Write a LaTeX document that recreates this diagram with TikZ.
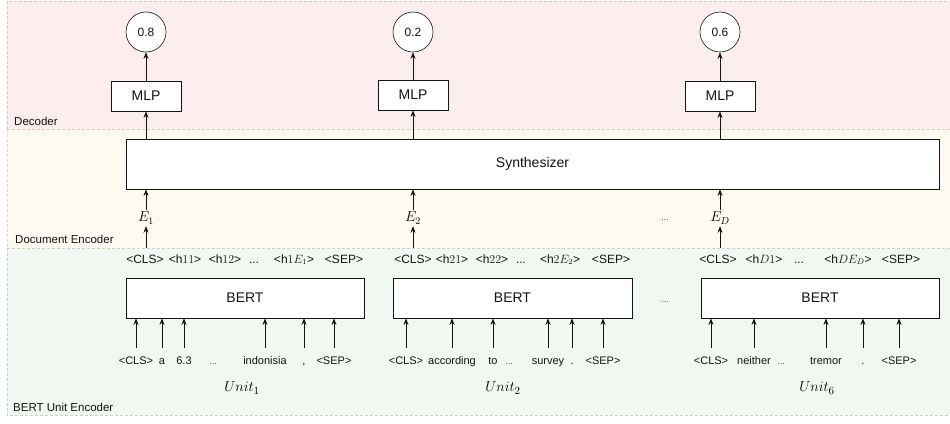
\documentclass[tikz,border=0pt]{standalone}
\usepackage{fontspec}
\setmainfont{Liberation Sans}
\usetikzlibrary{arrows.meta}
\definecolor{decfill}{RGB}{252,237,238}
\definecolor{docfill}{RGB}{254,250,240}
\definecolor{bertfill}{RGB}{241,247,241}
\definecolor{decline}{RGB}{224,196,188}
\definecolor{docline}{RGB}{226,214,190}
\definecolor{bertline}{RGB}{198,212,200}
\definecolor{ink}{RGB}{20,20,20}
\begin{document}
\begin{tikzpicture}[x=1pt,y=-1pt,
  band/.style={dash pattern=on 3pt off 2pt, line width=0.6pt},
  boxnode/.style={draw=ink, fill=white, line width=0.8pt, inner sep=0, font=\fontsize{14}{16}\selectfont, text=ink},
  circnode/.style={circle, draw=ink, fill=white, line width=0.6pt, minimum size=40pt, inner sep=0, font=\fontsize{12}{14}\selectfont, text=ink},
  arr/.style={-{Stealth[length=6.5pt,width=5pt]}, draw=ink, line width=0.75pt},
  seclabel/.style={anchor=west, inner sep=0, font=\fontsize{11.5}{13}\selectfont, text=ink},
  hid/.style={anchor=base, inner xsep=0, inner ysep=6pt, text height=8.5pt, text depth=2pt, font=\fontsize{12}{14}\selectfont, text=ink},
  tok/.style={anchor=base, inner xsep=0, inner ysep=8pt, text height=8pt, text depth=2pt, font=\fontsize{11}{13}\selectfont, text=ink},
  mathlbl/.style={inner sep=2pt, font=\fontsize{14}{16}\selectfont},
  unitlbl/.style={inner sep=0, font=\fontsize{15}{17}\selectfont},
  dotlbl/.style={anchor=base, inner sep=0, font=\fontsize{9}{11}\selectfont, text=ink!75}
]
\useasboundingbox (0,0) rectangle (950,423);
% bands
\path[fill=decfill] (7,1) rectangle (952,129);
\path[fill=docfill] (7,129) rectangle (952,248);
\path[fill=bertfill] (7,248) rectangle (952,415);
\draw[band, draw=decline] (952,1) -- (7,1) -- (7,129);
\draw[band, draw=docline] (7,129) -- (7,248);
\draw[band, draw=bertline] (7,248) -- (7,415) -- (952,415);
\draw[band, draw=decline] (7,129) -- (952,129);
\draw[band, draw=bertline!80!docline] (7,248) -- (952,248);
% section labels
\node[seclabel] (ldec) at (14,121) {Decoder};
\node[seclabel] (ldoc) at (15,239) {Document Encoder};
\node[seclabel] (lbert) at (13,407) {BERT Unit Encoder};
% decoder
\node[circnode] (c1) at (146,32) {0.8};
\node[circnode] (c2) at (413,32) {0.2};
\node[circnode] (c3) at (720,32) {0.6};
\node[boxnode, minimum width=70pt, minimum height=30pt] (m1) at (146,96) {MLP};
\node[boxnode, minimum width=70pt, minimum height=30pt] (m2) at (413,95) {MLP};
\node[boxnode, minimum width=70pt, minimum height=30pt] (m3) at (720,96) {MLP};
\draw[arr] (m1.north) -- (c1.south);
\draw[arr] (m2.north) -- (c2.south);
\draw[arr] (m3.north) -- (c3.south);
% synthesizer
\node[boxnode, minimum width=813pt, minimum height=50pt] (synth) at (532.5,164) {Synthesizer};
\draw[arr] (synth.north -| m1) -- (m1.south);
\draw[arr] (synth.north -| m2) -- (m2.south);
\draw[arr] (synth.north -| m3) -- (m3.south);
% E labels
\node[mathlbl] (e1) at (146,218) {$E_1$};
\node[mathlbl] (e2) at (413,218) {$E_2$};
\node[mathlbl] (e3) at (720,218) {$E_D$};
\node[dotlbl, anchor=center] (edots) at (665,220) {...};
\draw[arr] (e1.north) -- (e1.north |- synth.south);
\draw[arr] (e2.north) -- (e2.north |- synth.south);
\draw[arr] (e3.north) -- (e3.north |- synth.south);
% hidden rows
\node[hid] (h1a) at (145,263) {<CLS>};
\node[hid] (h1b) at (185,263) {<h$11$>};
\node[hid] (h1c) at (225,263) {<h$12$>};
\node[hid] (h1d) at (254,263) {...};
\node[hid] (h1e) at (294,263) {<h$1E_1$>};
\node[hid] (h1f) at (344,263) {<SEP>};
\node[hid] (h2a) at (413,263) {<CLS>};
\node[hid] (h2b) at (452,263) {<h$21$>};
\node[hid] (h2c) at (492,263) {<h$22$>};
\node[hid] (h2d) at (521,263) {...};
\node[hid] (h2e) at (560,263) {<h$2E_2$>};
\node[hid] (h2f) at (611,263) {<SEP>};
\node[hid] (h3a) at (718,263) {<CLS>};
\node[hid] (h3b) at (764,263) {<h$D1$>};
\node[hid] (h3c) at (799,263) {...};
\node[hid] (h3d) at (848,263) {<h$DE_D$>};
\node[hid] (h3e) at (901,263) {<SEP>};
\draw[arr] (h1a.north -| e1) -- (e1.south);
\draw[arr] (h2a.north -| e2) -- (e2.south);
\draw[arr] (h3a.north -| e3) -- (e3.south);
% BERT boxes
\node[boxnode, minimum width=238pt, minimum height=40pt] (b1) at (245,298) {BERT};
\node[boxnode, minimum width=239pt, minimum height=40pt] (b2) at (512.5,298) {BERT};
\node[boxnode, minimum width=238pt, minimum height=40pt] (b3) at (820,298) {BERT};
\node[dotlbl, anchor=center] (bdots) at (665,302) {...};
% tokens
\foreach \x/\t [count=\i] in {136/{<CLS>}, 162/a, 184/6.3, 265/indonisia, 304/{,}, 334/{<SEP>}}{
  \node[tok] (ua\i) at (\x,364) {\t};
  \draw[arr] (ua\i.north) -- (ua\i.north |- b1.south);
}
\node[dotlbl] (uadots) at (213,364) {...};
\foreach \x/\t [count=\i] in {406/{<CLS>}, 452/according, 493/to, 548/survey, 572/., 603/{<SEP>}}{
  \node[tok] (ub\i) at (\x,364) {\t};
  \draw[arr] (ub\i.north) -- (ub\i.north |- b2.south);
}
\node[dotlbl] (ubdots) at (509,364) {...};
\foreach \x/\t [count=\i] in {711/{<CLS>}, 754/neither, 826/tremor, 863/., 899/{<SEP>}}{
  \node[tok] (uc\i) at (\x,364) {\t};
  \draw[arr] (uc\i.north) -- (uc\i.north |- b3.south);
}
\node[dotlbl] (ucdots) at (781,364) {...};
% unit labels
\node[unitlbl] (u1) at (242,388) {$Unit_1$};
\node[unitlbl] (u2) at (503,388) {$Unit_2$};
\node[unitlbl] (u3) at (817,388) {$Unit_6$};
\end{tikzpicture}
\end{document}
